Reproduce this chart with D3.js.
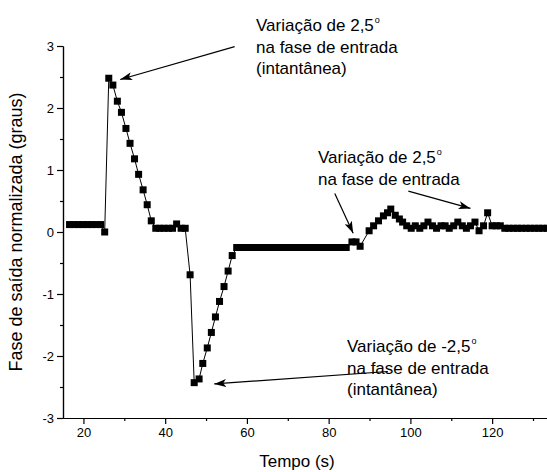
<!DOCTYPE html>
<html>
<head>
<meta charset="utf-8">
<script src="https://cdnjs.cloudflare.com/ajax/libs/d3/7.8.5/d3.min.js"></script>
<style>
  body { margin: 0; background: #fff; }
  svg text { font-family: "Liberation Sans", Arial, sans-serif; fill: #000; }
</style>
</head>
<body>
<div id="chart"></div>
<script>
// tempo (s) e fase de saida normalizada (graus)
const tempo = [
  16.6, 17.7, 18.8, 19.9, 21.0, 22.0, 23.1, 24.2,
  25.2, 26.2, 27.2, 28.3, 29.3, 30.4, 31.4, 32.5, 33.5, 34.6, 35.6, 36.6,
  37.7, 38.7, 39.7, 40.8, 41.8, 42.8, 43.9, 44.9,
  46.1, 47.1, 48.3, 49.2, 50.3, 51.3, 52.3, 53.3, 54.4, 55.4, 56.4,
  57.5, 58.5, 59.5, 60.6, 61.6, 62.6, 63.7, 64.7, 65.7, 66.8, 67.8, 68.8, 69.9,
  70.9, 71.9, 73.0, 74.0, 75.0, 76.1, 77.1, 78.1, 79.2, 80.2, 81.2, 82.3, 83.3, 84.3,
  85.7, 86.7, 87.7,
  89.9, 91.0, 92.2, 93.4, 94.4, 95.2, 96.3, 97.3, 98.1,
  99.1, 100.2, 101.2, 102.3, 103.3, 104.3, 105.4, 106.4, 107.5, 108.5, 109.5,
  110.6, 111.6, 112.7, 113.7, 114.7, 115.8, 116.8, 117.9, 118.9, 120.0, 121.0, 122.0,
  123.1, 124.1, 125.2, 126.2, 127.2, 128.3, 129.3, 130.4, 131.4, 132.4, 133.5, 134.5
]
const fase = [
  0.12, 0.12, 0.12, 0.12, 0.12, 0.12, 0.12, 0.12,
  0.0, 2.48, 2.37, 2.11, 1.93, 1.67, 1.43, 1.18, 0.93, 0.68, 0.44, 0.18,
  0.06, 0.06, 0.06, 0.06, 0.06, 0.13, 0.06, 0.06,
  -0.69, -2.43, -2.37, -2.12, -1.87, -1.62, -1.37, -1.12, -0.88, -0.63, -0.38,
  -0.25, -0.25, -0.25, -0.25, -0.25, -0.25, -0.25, -0.25, -0.25, -0.25, -0.25, -0.25, -0.25,
  -0.25, -0.25, -0.25, -0.25, -0.25, -0.25, -0.25, -0.25, -0.25, -0.25, -0.25, -0.25, -0.25, -0.25,
  -0.16, -0.16, -0.23,
  0.02, 0.10, 0.18, 0.26, 0.31, 0.37, 0.27, 0.21, 0.16,
  0.10, 0.06, 0.10, 0.06, 0.10, 0.16, 0.10, 0.06, 0.10, 0.10, 0.06,
  0.10, 0.16, 0.10, 0.06, 0.10, 0.16, 0.02, 0.10, 0.31, 0.10, 0.10, 0.10,
  0.06, 0.06, 0.06, 0.06, 0.06, 0.06, 0.06, 0.06, 0.06, 0.06, 0.06, 0.06
]

const xTicks = [20, 40, 60, 80, 100, 120]
const xMinor = [30, 50, 70, 90, 110, 130]
const yTicks = [-3, -2, -1, 0, 1, 2, 3]
const yMinor = [-2.5, -1.5, -0.5, 0.5, 1.5, 2.5]

// anotacoes: linhas de texto e setas (de -> para, em unidades dos dados)
const notas = [
  { linhas: ['Variação de 2,5', 'na fase de entrada', '(intantânea)'], px: 256, py: 31 },
  { linhas: ['Variação de 2,5', 'na fase de entrada'], px: 318, py: 163 },
  { linhas: ['Variação de -2,5', 'na fase de entrada', '(intantânea)'], px: 347, py: 352 }
]
const setas = [
  { de: [57, 2.99], para: [29.0, 2.46] },
  { de: [81.5, 0.62], para: [86.0, -0.02] },
  { de: [99.5, 0.66], para: [114.7, 0.38] },
  { de: [94.5, -2.25], para: [52.0, -2.45] }
]

let svgWidth = 547
let svgHeight = 472
let svg = d3.select('#chart').append('svg')
    .attr('width', svgWidth)
    .attr('height', svgHeight)

svg.append('defs').append('marker')
    .attr('id', 'ponta')
    .attr('viewBox', '0 0 12 8')
    .attr('refX', 12)
    .attr('refY', 4)
    .attr('markerWidth', 12)
    .attr('markerHeight', 8)
    .attr('markerUnits', 'userSpaceOnUse')
    .attr('orient', 'auto')
    .append('path')
    .attr('d', 'M0,0 L12,4 L0,8 L3,4 Z')
    .attr('fill', '#000')

let x = d3.scaleLinear()
    .domain([15, 135])
    .range([63, 63 + 120 * 4.087])
let y = d3.scaleLinear()
    .domain([-3, 3])
    .range([418, 46])

// eixos
let axis_x = d3.axisBottom(x).tickValues(xTicks).tickSize(6).tickSizeOuter(0).tickPadding(4).tickFormat(d => d)
let axis_x_minor = d3.axisBottom(x).tickValues(xMinor).tickSize(3).tickSizeOuter(0).tickFormat('')
let axis_y = d3.axisLeft(y).tickValues(yTicks).tickSize(6).tickSizeOuter(0).tickPadding(3).tickFormat(d => String(d))
let axis_y_minor = d3.axisLeft(y).tickValues(yMinor).tickSize(3).tickSizeOuter(0).tickFormat('')

let gx = svg.append('g').attr('transform', `translate(0, ${y(-3)})`).call(axis_x)
svg.append('g').attr('transform', `translate(0, ${y(-3)})`).call(axis_x_minor)
let gy = svg.append('g').attr('transform', `translate(${x(15)}, 0)`).call(axis_y)
svg.append('g').attr('transform', `translate(${x(15)}, 0)`).call(axis_y_minor)

svg.selectAll('.domain').attr('stroke', '#000').attr('stroke-width', 1.2)
svg.selectAll('.tick line').attr('stroke', '#000').attr('stroke-width', 1.2)
gx.selectAll('text').attr('font-size', 13)
gy.selectAll('text').attr('font-size', 13)

svg.append('text')
    .attr('x', 297)
    .attr('y', 467)
    .attr('text-anchor', 'middle')
    .attr('font-size', 17)
    .text('Tempo (s)')

svg.append('text')
    .attr('transform', `translate(22, 232) rotate(-90)`)
    .attr('text-anchor', 'middle')
    .attr('font-size', 18)
    .text('Fase de saída normalizada (graus)')

// serie
let pts = tempo.map((t, i) => [t, fase[i]])
let line = d3.line().x(d => x(d[0])).y(d => y(d[1]))
svg.append('path')
    .datum(pts)
    .attr('d', line)
    .attr('fill', 'none')
    .attr('stroke', '#000')
    .attr('stroke-width', 1)

let sq = 7
svg.append('g')
    .selectAll('rect')
    .data(pts)
    .enter()
    .append('rect')
    .attr('x', d => x(d[0]) - sq / 2)
    .attr('y', d => y(d[1]) - sq / 2)
    .attr('width', sq)
    .attr('height', sq)
    .attr('fill', '#000')

// setas
svg.append('g')
    .selectAll('line')
    .data(setas)
    .enter()
    .append('line')
    .attr('x1', d => x(d.de[0]))
    .attr('y1', d => y(d.de[1]))
    .attr('x2', d => x(d.para[0]))
    .attr('y2', d => y(d.para[1]))
    .attr('stroke', '#000')
    .attr('stroke-width', 1.2)
    .attr('marker-end', 'url(#ponta)')

// textos, uma linha por elemento; grau como "o" sobrescrito ao lado
notas.forEach(n => {
    n.linhas.forEach((l, i) => {
        let t = svg.append('text')
            .attr('x', n.px)
            .attr('y', n.py + i * 21.5)
            .attr('font-size', 17)
            .text(l)
        if (i == 0) {
            let w = t.node().getComputedTextLength()
            svg.append('text')
                .attr('x', n.px + w + 1)
                .attr('y', n.py - 8)
                .attr('font-size', 9)
                .text('o')
        }
    })
})
</script>
</body>
</html>
